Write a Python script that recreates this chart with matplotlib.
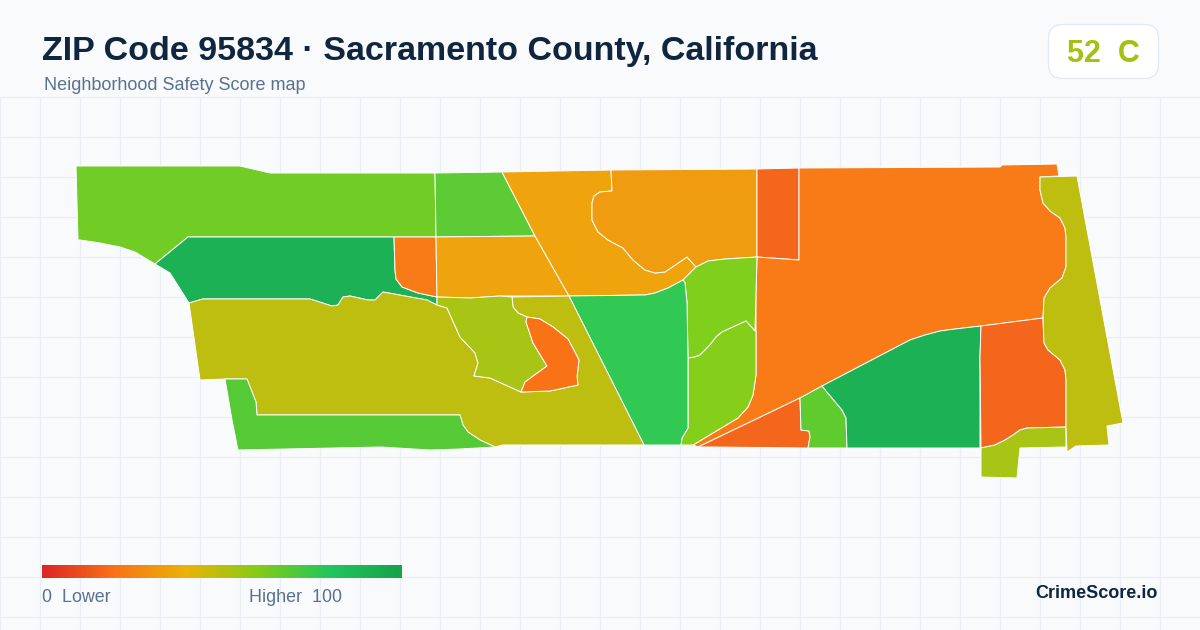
import numpy as np
from matplotlib import pyplot as plt
from matplotlib.colors import LinearSegmentedColormap
from matplotlib.patches import FancyBboxPatch

plt.rcParams["font.family"] = ["Liberation Sans", "DejaVu Sans"]

# ============================================================
# Data: neighborhood outlines (pixel positions)
# ============================================================

titulo = "ZIP Code 95834 · Sacramento County, California"
subtitulo = "Neighborhood Safety Score map"
score_label = "52  C"
marca = "CrimeScore.io"

# limites compartilhados entre bairros
curva_baia = [(612, 191), (600, 192), (594, 196), (592, 203), (592, 220), (598, 232), (608, 240),
              (623, 248), (633, 260), (645, 270), (655, 273), (665, 272), (687, 257), (696, 267)]
curva_leste_a = [(1040, 177), (1040, 190), (1043, 203), (1050, 211), (1060, 218), (1065, 228),
                 (1066, 237), (1066, 267), (1062, 278), (1050, 288), (1044, 298), (1043, 318)]
curva_leste_b = [(1043, 318), (1044, 343), (1048, 350), (1060, 360), (1065, 370), (1066, 380), (1066, 427)]
curva_oeste = [(189, 303), (203, 299), (310, 299), (332, 306), (338, 305), (343, 297), (350, 296),
               (368, 300), (375, 300), (383, 292), (427, 300), (437, 305)]
curva_oliva = [(437, 305), (447, 308), (460, 337), (475, 353), (478, 363), (474, 376), (490, 378),
               (521, 392)]
curva_bolso_baixo = [(521, 392), (550, 391), (578, 385), (577, 377), (579, 360), (568, 339),
                     (553, 327), (540, 319), (527, 317)]
curva_bolso_alto = [(527, 317), (518, 313), (513, 307), (512, 297)]
curva_bolso_dentro = [(527, 317), (526, 322), (533, 343), (547, 366), (525, 382), (521, 392)]
curva_laranja_oeste = [(394, 237), (395, 270), (396, 279), (402, 287), (418, 293), (437, 297)]
curva_ambar_sul = [(696, 267), (683, 280), (668, 288), (655, 293), (645, 295), (569, 296)]
curva_lima_topo = [(696, 267), (708, 261), (725, 259), (757, 257)]
curva_lima_meio = [(755, 331), (746, 321), (722, 332), (716, 337), (710, 345), (700, 355), (695, 357), (688, 358)]
curva_lima_base = [(756, 331), (756, 375), (753, 395), (748, 407), (738, 418), (693, 445)]
curva_verde_base = [(693, 445), (681, 445), (682, 438), (688, 428), (688, 358)]
curva_sudeste = [(981, 326), (955, 329), (940, 331), (925, 335), (910, 340), (822, 386)]
curva_verde_sul = [(822, 386), (842, 410), (846, 418), (847, 448)]
curva_sul_b = [(981, 448), (995, 445), (1005, 440), (1013, 435), (1020, 430), (1027, 428), (1066, 427)]
curva_costa = [(80, 240), (100, 243), (120, 247), (135, 252), (155, 264)]
curva_sudoeste = [(495, 447), (480, 440), (468, 432), (463, 425), (460, 415)]
curva_dente = [(800, 398), (801, 430), (809, 431), (810, 437), (808, 448)]

noroeste = [(76, 166), (240, 166), (270, 173), (435, 173), (436, 237), (188, 237)] + curva_costa[::-1] + [(78, 240)]
norte_a = [(435, 173), (502, 172), (535, 236), (436, 237)]
verde_oeste = curva_laranja_oeste + curva_oeste[::-1] + [(170, 273), (155, 264), (188, 237)]
laranja_oeste = curva_laranja_oeste + [(436, 237)]
ambar_centro = [(436, 237), (535, 236), (569, 296), (500, 296), (470, 298), (437, 297)]
ambar_norte = [(502, 172), (611, 170)] + curva_baia + curva_ambar_sul + [(535, 236)]
ambar_leste = [(611, 170), (757, 169), (757, 257)] + curva_lima_topo[::-1] + curva_baia[::-1]
vermelho_norte = [(757, 169), (799, 168), (799, 260), (757, 257)]
laranja_grande = ([(799, 168), (1000, 167), (1002, 165), (1057, 164), (1059, 176)] + curva_leste_a
                  + curva_sudeste + [(800, 398), (698, 447), (693, 445)] + curva_lima_base[::-1][1:]
                  + [(756, 293), (757, 257), (799, 260)])
lima_norte = curva_lima_topo + curva_lima_meio + [(687, 303), (685, 283), (683, 280)]
lima_sul = curva_lima_meio[::-1] + curva_lima_base + curva_verde_base[1:]
verde_centro = curva_ambar_sul[1:][::-1] + [(685, 283), (687, 303), (688, 358), (688, 428), (682, 438), (681, 445), (644, 445)]
oliva_oeste = (curva_oeste + curva_oliva + curva_bolso_baixo + curva_bolso_alto
               + [(569, 296), (644, 445), (503, 445)] + curva_sudoeste
               + [(257, 415), (256, 402), (247, 379), (225, 379), (200, 380)])
oliva_centro = ([(437, 297), (470, 298), (500, 296)] + curva_bolso_alto[::-1] + curva_bolso_dentro
                + curva_oliva[::-1])
laranja_centro = curva_bolso_baixo + curva_bolso_dentro[1:]
verde_sudoeste = ([(225, 379), (247, 379), (256, 402), (257, 415)] + curva_sudoeste[::-1]
                  + [(460, 449), (430, 450), (381, 447), (238, 450), (232, 420)])
vermelho_sul = curva_dente + [(710, 447), (698, 447)]
verde_sul = [(800, 398)] + curva_verde_sul + curva_dente[::-1][:-1]
verde_sudeste = curva_sudeste + curva_verde_sul[1:] + [(980, 448), (980, 357)]
vermelho_leste = [(981, 326)] + curva_leste_b + curva_sul_b[::-1] + [(980, 357)]
oliva_sul = curva_sul_b + [(1066, 447), (1020, 448), (1017, 478), (981, 477)]
oliva_leste = ([(1040, 177), (1077, 176), (1123, 423), (1107, 426), (1109, 445), (1076, 446), (1067, 452)]
               + curva_leste_b[::-1] + curva_leste_a[::-1][1:])
lasca_norte = [(816, 166), (836, 166), (836, 167), (816, 167)]

areas = [noroeste, norte_a, verde_oeste, laranja_oeste, ambar_centro, ambar_norte, ambar_leste,
         vermelho_norte, laranja_grande, lima_norte, lima_sul, verde_centro, oliva_oeste,
         oliva_centro, laranja_centro, verde_sudoeste, vermelho_sul, verde_sul, verde_sudeste,
         vermelho_leste, oliva_sul, oliva_leste, lasca_norte]
cores = ["#72CC26", "#5CCB35", "#1CB154", "#F97B17", "#EFA30C", "#EFA30C", "#F09C10",
         "#F4661B", "#F97B17", "#80CF1C", "#85CE1A", "#31C853", "#BDBE10",
         "#A8C414", "#F97316", "#55C936", "#F4661B", "#5FCB2F", "#1CB154",
         "#F4661B", "#A8C414", "#BDBE10", "#5FCB2F"]

# escala de cores da legenda
escala_pos = [0.0, 0.2, 0.4, 0.6, 0.8, 1.0]
escala_cor = ["#DC2626", "#F97316", "#EAB308", "#84CC16", "#22C55E", "#16A34A"]

# ============================================================
# Figure
# ============================================================

fig = plt.figure(figsize=(12, 6.3), facecolor="#F8FAFC")
ax = fig.add_axes([0, 0, 1, 1])
ax.set_facecolor("#F8FAFC")

# grid de fundo
ax.vlines(np.arange(0, 1200, 40), 97, 630, color="#E9EEF4", lw=0.9, zorder=1)
ax.hlines(np.arange(97, 630, 40), 0, 1200, color="#E9EEF4", lw=0.9, zorder=1)

for pts, cor in zip(areas, cores):
    xs, ys = zip(*pts)
    ax.fill(xs, ys, facecolor=cor, edgecolor="white", lw=0.7, joinstyle="round", zorder=2)

# cabeçalho
ax.text(42, 48, titulo, fontsize=24.45, fontweight="bold", color="#10263F", va="center_baseline", ha="left", zorder=4)
ax.text(44, 84, subtitulo, fontsize=13, color="#5B7190", va="center_baseline", ha="left", zorder=4)

badge = FancyBboxPatch((1048.5, 24.5), 110, 54, boxstyle="round,pad=0,rounding_size=14",
                       facecolor="white", edgecolor="#E2E8F0", lw=0.9, zorder=3)
ax.add_patch(badge)
ax.text(1103, 50, score_label, fontsize=22, fontweight="bold", color="#A5C013", va="center_baseline", ha="center", zorder=4)

# legenda
cmap = LinearSegmentedColormap.from_list("safety", list(zip(escala_pos, escala_cor)))
ax.imshow(np.linspace(0, 1, 360).reshape(1, -1), cmap=cmap, extent=(42, 402, 578, 565), aspect="auto", zorder=3)
ax.text(42, 596, "0  Lower", fontsize=12.9, color="#5B7190", va="center_baseline", ha="left", zorder=4)
ax.text(249, 596, "Higher  100", fontsize=12.9, color="#5B7190", va="center_baseline", ha="left", zorder=4)
ax.text(1158, 592, marca, fontsize=13, fontweight="bold", color="#10263F", va="center_baseline", ha="right", zorder=4)

ax.set_xlim(0, 1200)
ax.set_ylim(630, 0)
ax.axis("off")

fig.savefig("out.png", dpi=100, facecolor=fig.get_facecolor())
plt.close(fig)
